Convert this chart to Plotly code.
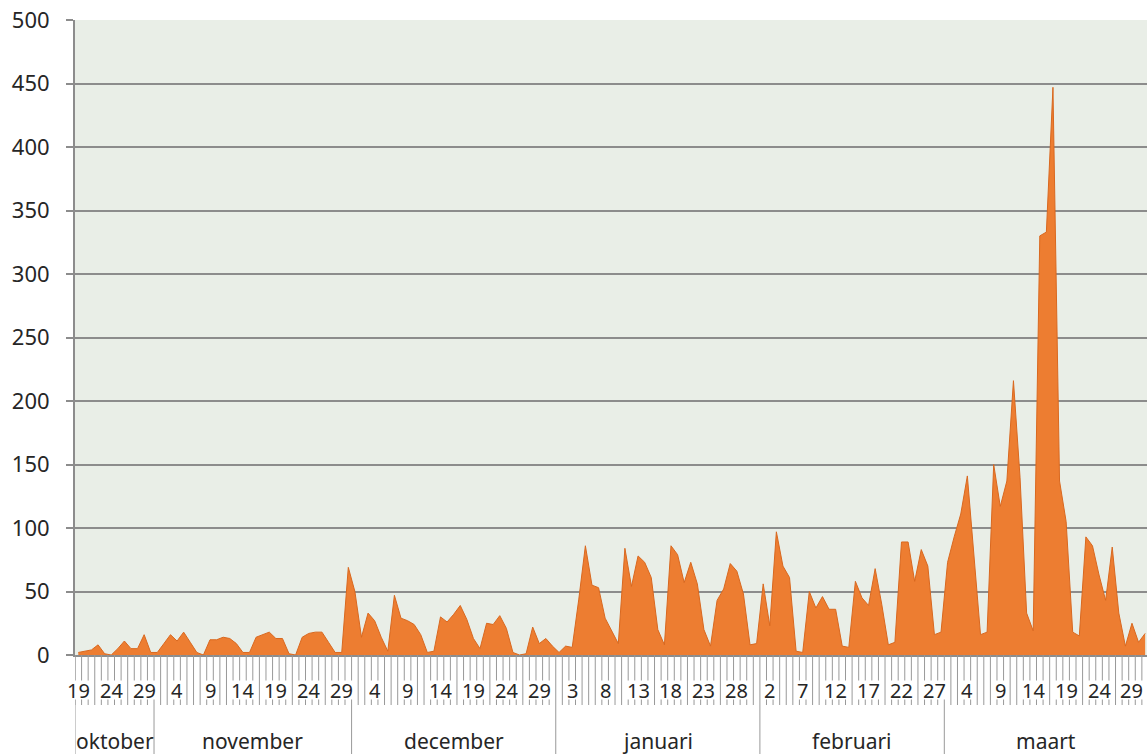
import plotly.graph_objects as go

# ---- data ----
months = ["oktober", "november", "december", "januari", "februari", "maart"]
month_first_day = [19, 1, 1, 1, 1, 1]
month_last_day = [30, 30, 31, 31, 28, 31]

oct_vals = [2, 3, 4, 8, 1, 0, 5, 11, 5, 5, 16, 2]
nov_vals = [2, 9, 16, 11, 18, 10, 2, 0, 12, 12, 14, 13, 9, 2, 2,
            14, 16, 18, 13, 13, 1, 0, 14, 17, 18, 18, 10, 2, 2, 69]
dec_vals = [50, 14, 33, 27, 14, 3, 47, 29, 27, 24, 16, 2, 3, 30, 26, 32,
            39, 28, 13, 5, 25, 24, 31, 21, 2, 0, 1, 22, 9, 13, 7]
jan_vals = [2, 7, 6, 44, 86, 55, 53, 29, 19, 9, 84, 54, 78, 73, 61, 20,
            8, 86, 79, 57, 73, 56, 20, 7, 43, 52, 72, 66, 48, 8, 9]
feb_vals = [56, 23, 97, 70, 61, 3, 2, 50, 37, 46, 36, 36, 7, 6, 58, 45,
            39, 68, 40, 8, 10, 89, 89, 58, 83, 70, 16, 18]
mar_vals = [73, 93, 111, 141, 80, 16, 18, 150, 117, 137, 216, 140, 33, 19,
            330, 333, 447, 137, 105, 18, 15, 93, 86, 63, 43, 85, 33, 7, 25, 10, 17]

y_ticks = list(range(0, 501, 50))
label_every = 5

# ---- build categories ----
series_by_month = [oct_vals, nov_vals, dec_vals, jan_vals, feb_vals, mar_vals]
values = []
days = []
month_bounds = []
for m, (d0, d1, vals) in enumerate(zip(month_first_day, month_last_day, series_by_month)):
    start = len(values)
    day_list = list(range(d0, d1 + 1))
    days += day_list
    values += vals
    month_bounds.append((start, len(values) - 1))

n = len(values)
xs = list(range(n))

GRID = "#8C8C8C"
TXT = "#262626"
FONT = "Noto Sans"

fig = go.Figure()
fig.add_trace(go.Scatter(
    x=xs, y=values, mode="lines", fill="tozeroy",
    fillcolor="#ED7D31", line=dict(color="#D9681F", width=1),
    hoverinfo="skip", showlegend=False,
))

tick_len = 50 / 635
sep_bottom = -0.17

# category tick lines between categories
path = ""
for i in range(n + 1):
    b = i - 0.5
    path += f"M {b},0 V {-tick_len} "
shapes = [dict(type="path", xref="x", yref="paper", path=path,
               line=dict(color="#999999", width=1), layer="above")]

# month separators
sep = ""
for k, (s, e) in enumerate(month_bounds):
    top = 0 if k == 0 else -tick_len
    sep += f"M {s - 0.5},{top} V {sep_bottom} "
sep += f"M {month_bounds[-1][1] + 0.5},{-tick_len} V {sep_bottom} "
shapes.append(dict(type="path", xref="x", yref="paper", path=sep,
                   line=dict(color="#999999", width=1), layer="above"))

annotations = []
for i in range(0, n, label_every):
    annotations.append(dict(
        x=i, y=-35 / 635, xref="x", yref="paper", text=str(days[i]),
        showarrow=False, font=dict(family=FONT, size=20, color=TXT),
        bgcolor="white", borderpad=0, height=18, xanchor="center", yanchor="middle",
    ))
for name, (s, e) in zip(months, month_bounds):
    annotations.append(dict(
        x=(s + e) / 2, y=-86 / 635, xref="x", yref="paper", text=name,
        showarrow=False, font=dict(family=FONT, size=21, color=TXT),
        xanchor="center", yanchor="middle",
    ))

fig.update_layout(
    width=1147, height=754,
    margin=dict(l=75, r=0, t=20, b=99),
    paper_bgcolor="white",
    plot_bgcolor="#E9EEE7",
    shapes=shapes,
    annotations=annotations,
    xaxis=dict(
        range=[-0.5, 162.28], showgrid=False, zeroline=False,
        showticklabels=False, ticks="", showline=True, automargin=False,
        linecolor=GRID, linewidth=1.5, fixedrange=True,
    ),
    yaxis=dict(
        range=[0, 500], tickvals=y_ticks, showgrid=True, gridcolor=GRID,
        gridwidth=1.5, zeroline=False, showline=True, linecolor=GRID,
        linewidth=2, ticks="outside", ticklen=7, tickcolor=GRID, tickwidth=1.5,
        ticklabelstandoff=12, automargin=False,
        tickfont=dict(family=FONT, size=22, color=TXT),
    ),
)

fig.write_html(
    "out.html",
    config={"displayModeBar": False},
    post_script="document.body.style.margin='0';document.body.style.overflow='hidden';",
)
